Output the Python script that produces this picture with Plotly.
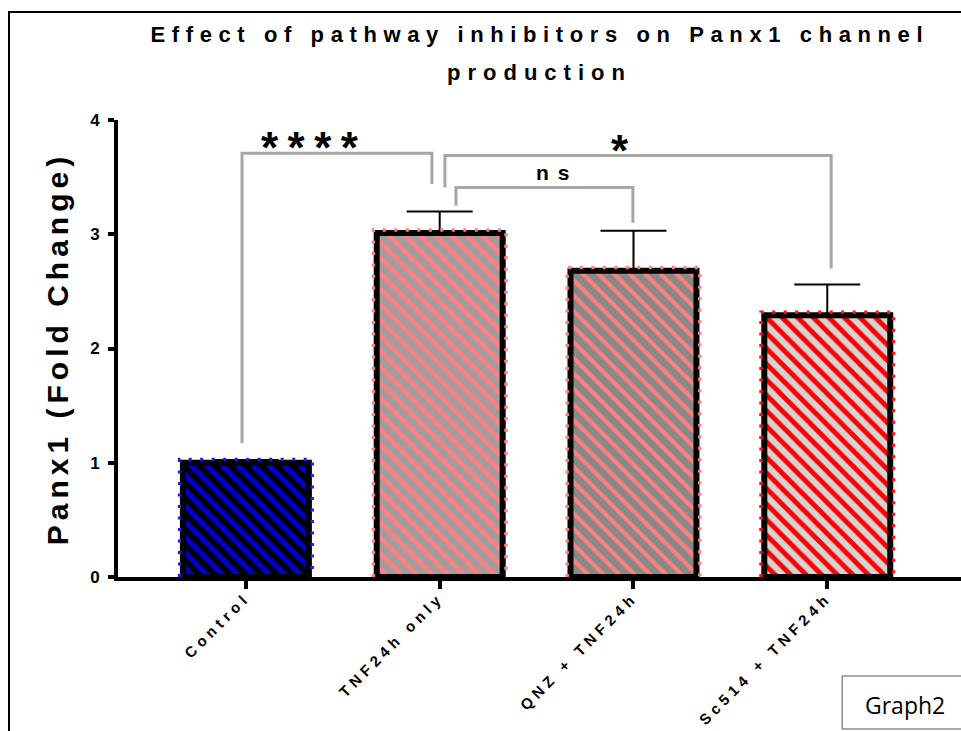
import json
import plotly.graph_objects as go

# ---- data -------------------------------------------------------------
categories = ["Control", "TNF24h only", "QNZ + TNF24h", "Sc514 + TNF24h"]
fold_change = [1.00, 3.01, 2.68, 2.29]
sem = [0.025, 0.19, 0.35, 0.27]

# significance comparisons (category indices and bracket heights)
sig_text = ["****", "*", "ns"]
sig_from = [0, 1, 1]
sig_to = [1, 3, 2]
sig_top = [3.71, 3.69, 3.41]
sig_from_end = [1.17, 3.41, 3.25]
sig_to_end = [3.44, 2.70, 3.10]

# ---- styling ------------------------------------------------------------
bar_bg = ["#0000C8", "#A09CA0", "#888888", "#D4D4D4"]
bar_stripe = ["#000000", "#FF8080", "#FF8080", "#FF0000"]
bar_dots = ["#2020D8", "#FF8080", "#FF8080", "#FF1010"]
stripe_solidity = [0.5, 0.42, 0.38, 0.45]

leg_from_offset = [-0.02, 0.027, 0.084]
leg_to_offset = [-0.04, 0.02, -0.003]
label_x = [0.356, 1.93, 1.61]
label_y = [3.76, 3.73, 3.54]
label_size = [44, 44, 21]

FONT = "Liberation Sans, Arial, sans-serif"
BAR_WIDTH = 0.65
GRAY = "#A6A6A6"

x_pos = list(range(len(categories)))

fig = go.Figure()

# one trace per group so each gets its own hatch colours
for i, xi in enumerate(x_pos):
    fig.add_trace(go.Bar(
        x=[xi],
        y=[fold_change[i]],
        width=BAR_WIDTH,
        marker=dict(
            color=bar_bg[i],
            line=dict(color="black", width=6),
            pattern=dict(
                shape="\\",
                fillmode="overlay",
                fgcolor=bar_stripe[i],
                fgopacity=1,
                size=11,
                solidity=stripe_solidity[i],
            ),
        ),
        error_y=dict(
            type="data",
            symmetric=False,
            array=[sem[i]],
            arrayminus=[0],
            color="black",
            thickness=2,
            width=33,
        ),
        hoverinfo="skip",
    ))

# dotted coloured outline hugging each bar
pad_x = 0.342
pad_y = 0.028
for xi, v, c in zip(x_pos, fold_change, bar_dots):
    fig.add_trace(go.Scatter(
        x=[xi - pad_x, xi - pad_x, xi + pad_x, xi + pad_x],
        y=[0, v + pad_y, v + pad_y, 0],
        mode="lines",
        line=dict(color=c, width=3.5, dash="3px,8.5px"),
        hoverinfo="skip",
    ))

# significance brackets
for i in range(len(sig_text)):
    xa = sig_from[i] + leg_from_offset[i]
    xb = sig_to[i] + leg_to_offset[i]
    fig.add_trace(go.Scatter(
        x=[xa, xa, xb, xb],
        y=[sig_from_end[i], sig_top[i], sig_top[i], sig_to_end[i]],
        mode="lines",
        line=dict(color=GRAY, width=3),
        hoverinfo="skip",
    ))
    fig.add_annotation(
        x=label_x[i], y=label_y[i], xref="x", yref="y",
        text=sig_text[i], showarrow=False,
        font=dict(family=FONT, size=label_size[i], color="black", weight="bold"),
        xanchor="center", yanchor="middle",
    )

# two-line title
fig.add_annotation(
    x=0.5, y=1.186, xref="paper", yref="paper",
    text="Effect of pathway inhibitors on Panx1 channel", showarrow=False,
    font=dict(family=FONT, size=22, color="black", weight="bold"),
    xanchor="center", yanchor="middle",
)
fig.add_annotation(
    x=0.5, y=1.103, xref="paper", yref="paper",
    text="production", showarrow=False,
    font=dict(family=FONT, size=22, color="black", weight="bold"),
    xanchor="center", yanchor="middle",
)

# sheet label box
fig.add_shape(type="rect", xref="paper", yref="paper",
              x0=0.859, x1=1.05, y0=-0.3326, y1=-0.2166,
              line=dict(color="#555555", width=1), fillcolor="white")
fig.add_annotation(
    x=0.9336, y=-0.280, xref="paper", yref="paper",
    text="Graph2", showarrow=False,
    font=dict(family="Open Sans, sans-serif", size=23, color="black"),
    xanchor="center", yanchor="middle",
)

# page frame (left and top edges)
fig.add_shape(type="line", xref="paper", yref="paper",
              x0=-0.1293, x1=-0.1293, y0=1.2363, y1=-0.36,
              line=dict(color="black", width=2))
fig.add_shape(type="line", xref="paper", yref="paper",
              x0=-0.1305, x1=1.05, y0=1.2363, y1=1.2363,
              line=dict(color="black", width=2))

fig.update_layout(
    width=961, height=731,
    margin=dict(l=118, r=0, t=120, b=154),
    paper_bgcolor="white", plot_bgcolor="white",
    showlegend=False,
    barmode="overlay",
    font=dict(family=FONT, color="black"),
)

fig.update_xaxes(
    range=[-0.66, 3.69],
    tickmode="array", tickvals=x_pos, ticktext=categories,
    tickangle=-45,
    tickfont=dict(family=FONT, size=15, color="black", weight="bold"),
    ticklabelstandoff=-6,
    showline=True, linecolor="black", linewidth=4,
    ticks="outside", ticklen=8, tickwidth=4, tickcolor="black",
    showgrid=False, zeroline=False,
)
fig.update_yaxes(
    range=[0, 4], dtick=1, tick0=0,
    tickfont=dict(family=FONT, size=17, color="black", weight="bold"),
    showline=True, linecolor="black", linewidth=4,
    ticks="outside", ticklen=6, tickwidth=4, tickcolor="black",
    ticklabelstandoff=5,
    showgrid=False, zeroline=False,
    title=dict(text="Panx1 (Fold Change)", standoff=14,
               font=dict(family=FONT, size=30, color="black", weight="bold")),
)

# GraphPad-style wide letter tracking for the bold labels
tracking = {
    "Effect of pathway inhibitors on Panx1 channel": 6.6,
    "production": 7.0,
    "Panx1 (Fold Change)": 5.0,
    "****": 9.5,
    "*": 0,
    "ns": 9.0,
    "Control": 4.6,
    "TNF24h only": 4.6,
    "QNZ + TNF24h": 4.6,
    "Sc514 + TNF24h": 4.6,
}

post = """
var gd = document.getElementById('{plot_id}');
var sp = TRACKING;
function track(){
  gd.querySelectorAll('text').forEach(function(t){
    var k = t.textContent;
    if (Object.prototype.hasOwnProperty.call(sp, k)) { t.style.letterSpacing = sp[k] + 'px'; }
  });
}
track();
if (gd.on) { gd.on('plotly_afterplot', track); }
""".replace("TRACKING", json.dumps(tracking))

fig.write_html("out.html", post_script=post)
